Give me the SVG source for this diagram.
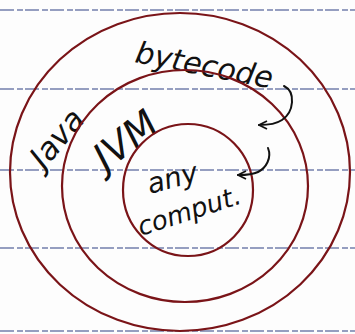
<svg xmlns="http://www.w3.org/2000/svg" width="355" height="334" viewBox="0 0 355 334">
<defs>
<style>
.rule{stroke:#3a4a8a;stroke-width:1.3;stroke-dasharray:14 3 6 2;opacity:0.7}
.ring{fill:none;stroke:#7a1418;stroke-width:2.2}
.hand{font-family:"DejaVu Sans",sans-serif;font-style:oblique;fill:#111}
.arrow{fill:none;stroke:#111;stroke-width:2;stroke-linecap:round;stroke-linejoin:round}
</style>
<marker id="head" viewBox="0 0 10 10" refX="9" refY="5" markerWidth="10" markerHeight="10" orient="auto" markerUnits="userSpaceOnUse">
<path d="M1,1 L9,5 L1,9" fill="none" stroke="#111" stroke-width="1.8"/>
</marker>
</defs>
<rect width="355" height="334" fill="#fdfdfd"/>
<g id="paper">
<line class="rule" x1="0" y1="10" x2="355" y2="10"/>
<line class="rule" x1="0" y1="89" x2="355" y2="89"/>
<line class="rule" x1="0" y1="170" x2="355" y2="170"/>
<line class="rule" x1="0" y1="248" x2="355" y2="248"/>
<line class="rule" x1="0" y1="331" x2="355" y2="331"/>
</g>
<g id="outer">
<ellipse class="ring" cx="180" cy="172" rx="170" ry="159"/>
<text class="hand" font-size="31" transform="translate(44,170) rotate(-50)">Java</text>
<text class="hand" font-size="30" transform="translate(134,62) rotate(11)">bytecode</text>
</g>
<g id="middle">
<ellipse class="ring" cx="185" cy="186" rx="123" ry="116"/>
<text class="hand" font-size="38" transform="translate(106,172) rotate(-38)">JVM</text>
</g>
<g id="inner">
<ellipse class="ring" cx="188" cy="190" rx="65" ry="66"/>
<text class="hand" font-size="28" transform="translate(150,194) rotate(-15)">any</text>
<text class="hand" font-size="26" transform="translate(141,236) rotate(-18)">comput.</text>
</g>
<g id="connectors">
<path class="arrow" marker-end="url(#head)" d="M284,86 C296,92 294,112 282,120 C276,124 268,125 259,125"/>
<path class="arrow" marker-end="url(#head)" d="M268,148 C272,158 266,168 258,172 C252,175 246,175 238,175"/>
</g>
</svg>
